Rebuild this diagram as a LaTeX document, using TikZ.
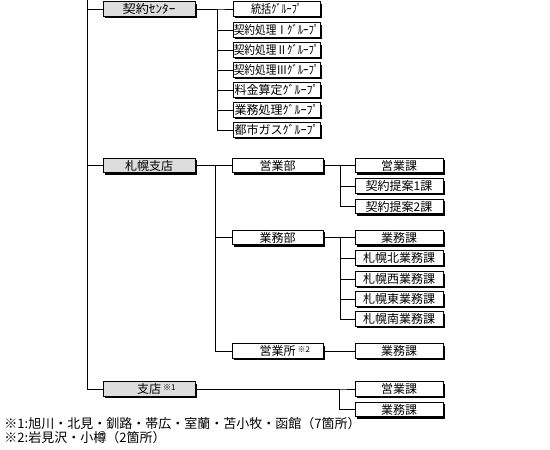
\documentclass[tikz,border=0pt]{standalone}
\usepackage{fontspec}
\setmainfont{Noto Sans CJK JP}
\usetikzlibrary{shadows}
\definecolor{boxgray}{RGB}{221,221,221}
\newcommand{\supmark}[1]{\rlap{\hspace{2pt}\raisebox{3.5pt}{\fontsize{8}{8}\selectfont #1}}}
\newcommand{\hsq}[2]{\scalebox{#1}[1]{#2}}
\begin{document}
\begin{tikzpicture}[x=1pt,y=-1pt,
  font=\fontsize{12}{13}\selectfont,
  line width=1pt,
  box/.style={draw=black, fill=white, line width=1pt, minimum height=14.5pt, inner sep=0pt, anchor=center,
    drop shadow={shadow xshift=1.8pt, shadow yshift=-1.8pt, fill=black, opacity=1}},
  lone/.style={box, fill=boxgray, minimum width=92pt},
  grp/.style={box, minimum width=87pt},
  ltwo/.style={box, minimum width=91pt},
  lthree/.style={box, minimum width=88pt},
  note/.style={anchor=west, inner sep=0pt, font=\fontsize{13}{14}\selectfont}
]
\useasboundingbox (0,0) rectangle (550,450);

% level 1
\node[lone] (kc) at (149,9) {\hsq{1.1}{契約ｾﾝﾀｰ}};
\node[lone] (sp) at (149,165.5) {札幌支店};
\node[lone] (sh) at (149,389) {支店\supmark{※1}};

% groups of 契約センター
\node[grp] (g1) at (276.5,9) {\hsq{0.85}{統括ｸﾞﾙｰﾌﾟ}};
\node[grp] (g2) at (276.5,30) {\hsq{0.89}{契約処理Ⅰｸﾞﾙｰﾌﾟ}};
\node[grp] (g3) at (276.5,50) {\hsq{0.89}{契約処理Ⅱｸﾞﾙｰﾌﾟ}};
\node[grp] (g4) at (276.5,70) {\hsq{0.89}{契約処理Ⅲｸﾞﾙｰﾌﾟ}};
\node[grp] (g5) at (276.5,90) {料金算定ｸﾞﾙｰﾌﾟ};
\node[grp] (g6) at (276.5,110) {業務処理ｸﾞﾙｰﾌﾟ};
\node[grp] (g7) at (276.5,130) {都市ガスｸﾞﾙｰﾌﾟ};

% level 2 of 札幌支店
\node[ltwo] (eb) at (277.5,165.5) {営業部};
\node[ltwo] (gb) at (277.5,237.5) {業務部};
\node[ltwo] (es) at (277.5,351) {営業所\supmark{※2}};

% level 3
\node[lthree] (e1) at (399,165.5) {営業課};
\node[lthree] (e2) at (399,186) {契約提案1課};
\node[lthree] (e3) at (399,206.5) {契約提案2課};
\node[lthree] (m1) at (399,237.5) {業務課};
\node[lthree] (m2) at (399,258) {札幌北業務課};
\node[lthree] (m3) at (399,279) {札幌西業務課};
\node[lthree] (m4) at (399,299) {札幌東業務課};
\node[lthree] (m5) at (399,319) {札幌南業務課};
\node[lthree] (s1) at (399,351) {業務課};
\node[lthree] (h1) at (399,389) {営業課};
\node[lthree] (h2) at (399,409.5) {業務課};

% trunk coordinates
\coordinate (top) at (87,0);
\coordinate (tk) at (217,0);
\coordinate (tsp) at (215,0);
\coordinate (teb) at (340.5,0);
\coordinate (tgb) at (340.5,0);
\coordinate (tsh) at (339.5,0);

% connectors
\draw (top) |- (kc.west);
\draw (top) |- (sp.west);
\draw (top) |- (sh.west);
\foreach \n in {g1,g2,g3,g4,g5,g6,g7}
  \draw (kc.east) -| (tk |- \n.west) -- (\n.west);
\foreach \n in {eb,gb,es}
  \draw (sp.east) -| (tsp |- \n.west) -- (\n.west);
\foreach \n in {e1,e2,e3}
  \draw (eb.east) -| (teb |- \n.west) -- (\n.west);
\foreach \n in {m1,m2,m3,m4,m5}
  \draw (gb.east) -| (tgb |- \n.west) -- (\n.west);
\draw (es.east) -- (s1.west);
\foreach \n in {h1,h2}
  \draw (sh.east) -| (tsh |- \n.west) -- (\n.west);

% notes
\node[note] (n1) at (4,423.5) {※1:旭川・北見・釧路・帯広・室蘭・苫小牧・函館（7箇所）};
\node[note] (n2) at (4,438) {※2:岩見沢・小樽（2箇所）};
\end{tikzpicture}
\end{document}
